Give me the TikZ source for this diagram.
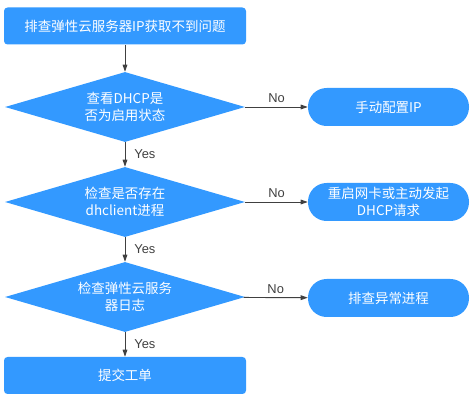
\documentclass[tikz,border=0pt]{standalone}
\usepackage{fontspec}
\setmainfont{Noto Sans CJK SC}
\newfontfamily\labelfont{Liberation Sans}
\usepackage{xcolor}
\usetikzlibrary{arrows.meta, positioning, shapes.geometric}
\definecolor{FlowBlue}{RGB}{51,153,255}
\definecolor{LineGray}{RGB}{64,64,64}

\begin{document}
\begin{tikzpicture}[
  task/.style={rectangle, rounded corners=3pt, fill=FlowBlue, text=white, minimum width=7.26cm, minimum height=1.11cm, font=\fontsize{11.5}{15}\selectfont},
  check/.style={diamond, aspect=3.4, fill=FlowBlue, text=white, minimum width=7.2cm, minimum height=2.1cm, inner sep=0pt, align=center, font=\fontsize{11.5}{15}\selectfont},
  fix/.style={rectangle, rounded corners=0.56cm, fill=FlowBlue, text=white, minimum width=4.83cm, minimum height=1.14cm, align=center, font=\fontsize{11.5}{15}\selectfont},
  flow/.style={draw=LineGray, line width=0.8pt, -{Triangle[length=6pt,width=4pt]}},
  answer/.style={font=\labelfont\fontsize{11}{13}\selectfont, text=LineGray}
]
\useasboundingbox (0,0) rectangle (14.25,12.09);

% Main flow
\node[task] (title) at (3.75, 11.31) {排查弹性云服务器IP获取不到问题};
\node[check] (dhcp) at (3.75, 8.88) {查看DHCP是\\否为启用状态};
\node[check] (client) at (3.75, 6.03) {检查是否存在\\dhclient进程};
\node[check] (log) at (3.75, 3.18) {检查弹性云服务\\器日志};
\node[task] (ticket) at (3.75, 0.825) {提交工单};

% Branches
\node[fix] (manual) at (11.655, 8.88) {手动配置IP};
\node[fix] (restart) at (11.655, 6.03) {重启网卡或主动发起\\DHCP请求};
\node[fix] (abnormal) at (11.655, 3.15) {排查异常进程};

% Connectors
\draw[flow] (title) -- (dhcp);
\draw[flow] (dhcp) -- node[answer, right=0.15cm] {Yes} (client);
\draw[flow] (client) -- node[answer, right=0.15cm] {Yes} (log);
\draw[flow] (log) -- node[answer, right=0.15cm] {Yes} (ticket);
\draw[flow] (dhcp) -- node[answer, above] {No} (manual);
\draw[flow] (client) -- node[answer, above] {No} (restart);
\draw[flow] (log) -- node[answer, above] {No} (abnormal);

\end{tikzpicture}
\end{document}
